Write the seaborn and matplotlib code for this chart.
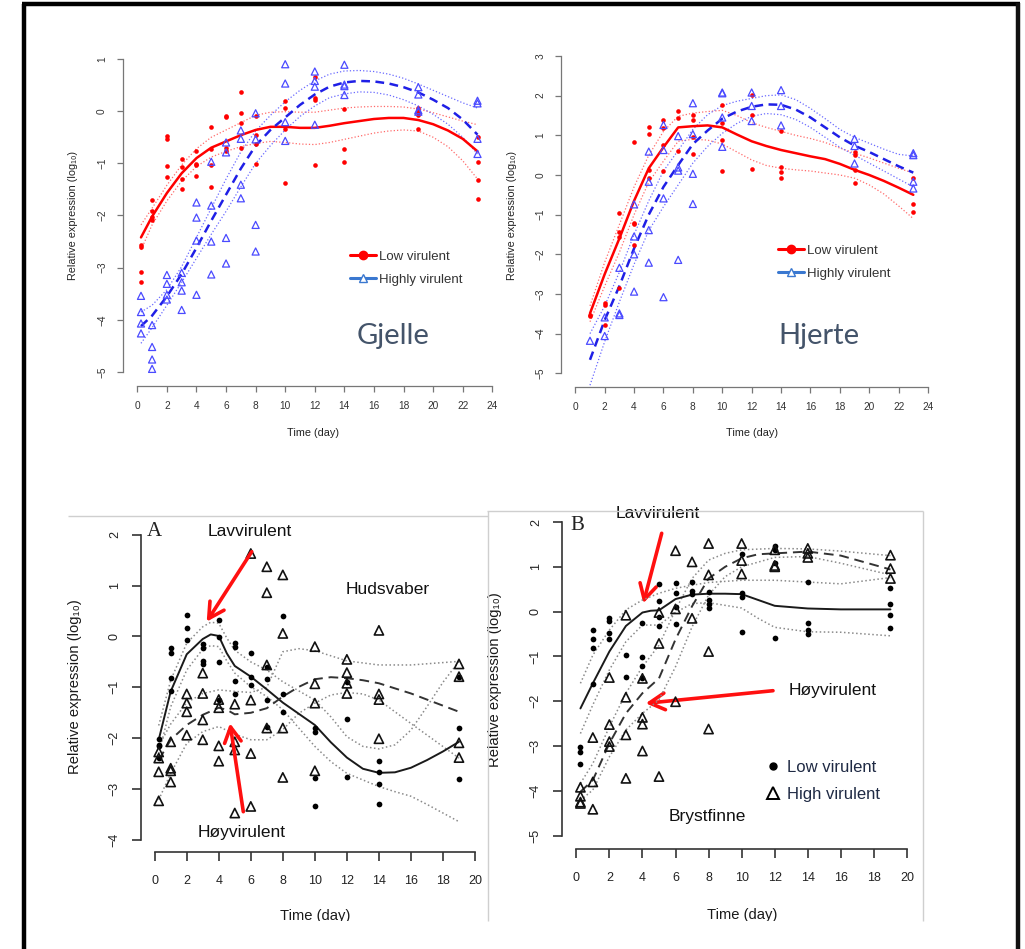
import matplotlib
matplotlib.use('Agg')
import matplotlib.pyplot as plt
from matplotlib.lines import Line2D
from matplotlib.patches import Rectangle
import pandas as pd
import seaborn as sns

W, H = 1025, 949

# ================= DATA =================
# ---- Gjelle (top left) ----
gj_days = [0.25, 1, 2, 3, 4, 5, 6, 7, 8, 10, 12, 14, 19, 23]
gj_low = [[-2.56, -2.61, -3.09, -3.28], [-1.70, -1.92, -2.02, -2.08], [-0.47, -0.53, -1.06, -1.27],
          [-0.92, -1.07, -1.30, -1.49], [-0.77, -1.02, -1.04, -1.25], [-0.30, -0.72, -1.03, -1.46],
          [-0.10, -0.11, -0.70, -0.76], [0.37, -0.04, -0.23, -0.71], [-0.10, -0.45, -0.63, -1.02],
          [0.20, 0.07, -0.34, -1.37], [0.65, 0.26, 0.21, -1.04], [0.04, -0.72, -0.97],
          [0.06, -0.01, -0.07, -0.35], [-0.49, -0.98, -1.31, -1.69]]
gj_high = [[-3.54, -3.85, -4.07, -4.26], [-4.10, -4.52, -4.76, -4.94], [-3.14, -3.31, -3.52, -3.61],
           [-3.10, -3.28, -3.44, -3.81], [-1.75, -2.04, -2.48, -3.52], [-0.97, -1.81, -2.50, -3.13],
           [-0.60, -0.79, -2.43, -2.92], [-0.37, -0.53, -1.41, -1.67], [-0.04, -0.54, -2.18, -2.69],
           [0.90, 0.53, -0.21, -0.57], [0.76, 0.58, 0.47, -0.26], [0.89, 0.51, 0.48, 0.31],
           [0.46, 0.32, 0.02, -0.01], [0.20, 0.15, -0.53, -0.82]]
gj_curve_x = [0.25, 1, 2, 3, 4, 5, 6, 7, 8, 9, 10, 11, 12, 13, 14, 15, 16, 17, 18, 19, 20, 21, 22, 23]
gj_low_fit = [-2.42, -2.02, -1.57, -1.19, -0.90, -0.70, -0.58, -0.46, -0.36, -0.30, -0.30, -0.32,
              -0.32, -0.28, -0.23, -0.19, -0.15, -0.13, -0.13, -0.17, -0.25, -0.37, -0.53, -0.77]
gj_low_hi = [-2.18, -1.86, -1.42, -1.03, -0.72, -0.50, -0.36, -0.22, -0.08, -0.02, -0.01, -0.02,
             -0.02, 0.02, 0.06, 0.08, 0.09, 0.09, 0.08, 0.04, -0.03, -0.11, -0.19, -0.26]
gj_low_lo = [-2.66, -2.18, -1.72, -1.34, -1.06, -0.88, -0.77, -0.68, -0.62, -0.58, -0.60, -0.63,
             -0.64, -0.60, -0.54, -0.48, -0.42, -0.38, -0.36, -0.38, -0.50, -0.68, -0.95, -1.30]
gj_high_fit = [-4.12, -3.92, -3.55, -3.12, -2.62, -2.10, -1.60, -1.10, -0.66, -0.36, -0.12, 0.12,
               0.32, 0.47, 0.55, 0.58, 0.57, 0.53, 0.46, 0.36, 0.22, 0.06, -0.16, -0.45]
gj_high_hi = [-3.85, -3.72, -3.42, -2.98, -2.42, -1.86, -1.30, -0.78, -0.38, -0.08, 0.18, 0.40,
              0.58, 0.71, 0.77, 0.78, 0.76, 0.71, 0.63, 0.52, 0.40, 0.28, 0.16, 0.06]
gj_high_lo = [-4.45, -4.15, -3.72, -3.28, -2.82, -2.36, -1.92, -1.45, -1.00, -0.66, -0.36, -0.10,
              0.10, 0.26, 0.33, 0.37, 0.36, 0.31, 0.22, 0.10, -0.06, -0.25, -0.50, -0.82]

# ---- Hjerte (top right) ----
hj_days = [1, 2, 3, 4, 5, 6, 7, 8, 10, 12, 14, 19, 23]
hj_low = [[-3.54, -3.56], [-3.22, -3.29, -3.78], [-0.97, -1.43, -1.57, -2.86], [0.82, -1.22, -1.24, -1.76],
          [1.20, 1.03, 0.13, -0.08], [1.39, 1.18, 0.76, 0.11], [1.61, 1.43, 0.61], [1.50, 1.39, 0.97, 0.53],
          [1.76, 1.30, 0.87, 0.10], [2.02, 1.50, 0.14], [1.12, 0.21, 0.07, -0.07], [0.59, 0.50, 0.13, -0.19],
          [-0.07, -0.74, -0.94]]
hj_high = [[-4.18], [-3.59, -4.06], [-2.34, -3.49, -3.53], [-0.74, -1.55, -2.00, -2.94],
           [0.59, -0.17, -1.39, -2.21], [1.26, 0.63, -0.59, -3.08], [0.98, 0.19, 0.11, -2.14],
           [1.81, 1.03, 0.03, -0.73], [2.08, 2.06, 1.45, 0.71], [2.08, 1.74, 1.36], [2.14, 1.74, 1.25],
           [0.91, 0.73, 0.29], [0.55, 0.50, -0.17, -0.34]]
hj_curve_x = [1, 2, 3, 4, 5, 6, 7, 8, 9, 10, 11, 12, 13, 14, 15, 16, 17, 18, 19, 20, 21, 22, 23]
hj_low_fit = [-3.49, -2.50, -1.60, -0.65, 0.17, 0.70, 1.20, 1.23, 1.25, 1.20, 1.02, 0.85, 0.73, 0.63,
              0.55, 0.47, 0.40, 0.28, 0.13, 0.00, -0.15, -0.32, -0.50]
hj_low_hi = [-3.30, -2.20, -1.25, -0.30, 0.50, 1.10, 1.48, 1.56, 1.60, 1.63, 1.50, 1.32, 1.20, 1.10,
             1.00, 0.92, 0.82, 0.68, 0.55, 0.43, 0.30, 0.17, 0.05]
hj_low_lo = [-3.70, -2.80, -1.95, -1.00, -0.18, 0.35, 0.85, 0.90, 0.88, 0.78, 0.58, 0.38, 0.24, 0.17,
             0.13, 0.10, 0.05, 0.00, -0.08, -0.25, -0.48, -0.78, -1.10]
hj_high_fit = [-4.66, -3.66, -2.80, -1.85, -1.00, -0.30, 0.25, 0.78, 1.12, 1.42, 1.60, 1.72, 1.78,
               1.77, 1.65, 1.45, 1.20, 0.95, 0.74, 0.58, 0.40, 0.22, 0.06]
hj_high_hi = [-4.00, -3.30, -2.45, -1.50, -0.65, 0.10, 0.62, 1.15, 1.52, 1.75, 1.86, 1.93, 2.00,
              2.02, 1.90, 1.68, 1.42, 1.15, 0.95, 0.80, 0.65, 0.52, 0.48]
hj_high_lo = [-5.30, -4.20, -3.20, -2.25, -1.40, -0.80, -0.25, 0.30, 0.72, 1.05, 1.30, 1.48, 1.55,
              1.52, 1.40, 1.20, 0.95, 0.70, 0.50, 0.30, 0.10, -0.10, -0.30]

# ---- A: Hudsvaber (bottom left) ----
a_days = [0.25, 1, 2, 3, 4, 5, 6, 7, 8, 10, 12, 14, 19]
a_low = [[-2.01, -2.13, -2.16, -2.39], [-0.23, -0.32, -0.82, -1.08], [0.42, 0.16, -0.07],
         [-0.15, -0.23, -0.48, -0.54], [0.32, -0.02, -0.51, -1.24], [-0.12, -0.21, -0.87, -1.13],
         [-0.33, -0.79, -0.95], [-0.60, -0.84, -1.24, -1.77], [0.40, -1.13, -1.48],
         [-1.80, -1.87, -2.79, -3.34], [-0.89, -1.63, -2.76], [-2.45, -2.66, -2.89, -3.29],
         [-0.79, -1.79, -2.80]]
a_high = [[-2.27, -2.39, -2.66, -3.23], [-2.07, -2.59, -2.64, -2.86], [-1.13, -1.31, -1.48, -1.94],
          [-0.72, -1.12, -1.64, -2.03], [-1.24, -1.40, -2.15, -2.45], [-1.33, -2.07, -2.23, -3.47],
          [1.63, -1.25, -2.30, -3.34], [1.37, 0.86, -0.56, -1.80], [1.21, 0.06, -1.80, -2.77],
          [-0.20, -0.93, -1.31, -2.64], [-0.45, -0.71, -0.92, -1.12], [0.12, -1.13, -1.24, -2.01],
          [-0.54, -0.79, -2.09, -2.38]]
a_low_x = [0.25, 1, 2, 3, 3.5, 4, 4.5, 5, 6, 7, 8, 9, 10, 11, 12, 13, 14, 15, 16, 17, 18, 19]
a_low_fit = [-2.03, -1.08, -0.35, -0.05, 0.04, 0.01, -0.33, -0.58, -0.79, -1.04, -1.30, -1.52, -1.74,
             -2.08, -2.38, -2.60, -2.68, -2.67, -2.58, -2.43, -2.26, -2.07]
a_low_hi = [-1.75, -0.86, -0.13, 0.19, 0.28, 0.26, -0.03, -0.27, -0.50, -0.66, -0.89, -1.07, -1.25,
            -1.58, -1.97, -2.16, -2.21, -2.13, -1.84, -1.38, -0.90, -0.49]
a_low_lo = [-2.30, -1.38, -0.66, -0.25, -0.18, -0.20, -0.48, -0.72, -0.99, -1.18, -1.44, -1.80, -2.16,
            -2.46, -2.69, -2.82, -2.95, -3.05, -3.14, -3.30, -3.47, -3.64]
a_high_x = [0.25, 1, 2, 3, 4, 4.5, 5, 6, 7, 8, 9, 10, 11, 12, 13, 14, 16, 19]
a_high_fit = [-2.43, -2.03, -1.74, -1.54, -1.40, -1.44, -1.53, -1.50, -1.41, -1.18, -0.99, -0.84,
              -0.80, -0.82, -0.86, -0.92, -1.12, -1.48]
a_high_hi_x = [0.25, 1, 2, 3, 4, 5, 6, 7, 7.5, 8, 9, 10, 12, 14, 16, 19]
a_high_hi = [-2.15, -1.72, -1.30, -1.12, -1.05, -1.08, -1.10, -1.00, -0.65, -0.30, -0.24, -0.28,
             -0.48, -0.56, -0.56, -0.49]
a_high_lo_x = [0.25, 1, 2, 3, 4, 5, 6, 7, 8, 9, 10, 11, 12, 13, 14, 16, 19]
a_high_lo = [-3.21, -2.69, -2.10, -1.87, -1.77, -1.92, -2.03, -2.03, -1.83, -1.51, -1.31, -1.15,
             -1.10, -1.13, -1.25, -1.71, -2.39]

# ---- B: Brystfinne (bottom right) ----
b_days = [0.25, 1, 2, 3, 4, 5, 6, 7, 8, 10, 12, 14, 19]
b_low = [[-3.01, -3.13, -3.39], [-0.41, -0.62, -0.81, -1.62], [-0.15, -0.22, -0.47, -0.62],
         [-0.97, -1.45], [-0.25, -1.01, -1.21, -1.49], [0.61, 0.24, -0.13, -0.32],
         [0.63, 0.41, 0.10, -0.28], [0.67, 0.47, 0.39], [0.43, 0.27, 0.18, 0.07],
         [1.29, 0.41, 0.32, -0.45], [1.47, 1.38, 1.08, -0.58], [0.65, -0.26, -0.40, -0.50],
         [0.53, 0.17, -0.08, -0.36]]
b_high = [[-3.92, -4.12, -4.25, -4.28], [-2.81, -3.80, -4.41], [-1.47, -2.52, -2.90, -3.01],
          [-0.08, -1.91, -2.75, -3.72], [-1.49, -2.36, -2.51, -3.11], [-0.02, -0.71, -3.68],
          [1.36, 0.06, -2.01], [1.11, -0.15], [1.52, 0.82, -0.89, -2.62], [1.52, 1.14, 0.84],
          [1.38, 1.03, 1.00], [1.41, 1.30, 1.21], [1.26, 0.96, 0.74]]
b_low_x = [0.25, 1, 2, 3, 4, 4.5, 5, 6, 7, 8, 9, 10, 11, 12, 14, 16, 19]
b_low_fit = [-2.16, -1.60, -0.89, -0.32, -0.02, 0.02, 0.03, 0.28, 0.38, 0.40, 0.40, 0.39, 0.26,
             0.13, 0.07, 0.05, 0.05]
b_low_hi_x = [0.25, 1, 2, 3, 4, 5, 6, 7, 8, 10, 12, 14, 16, 19]
b_low_hi = [-1.60, -0.97, -0.41, 0.04, 0.26, 0.41, 0.52, 0.59, 0.65, 0.70, 0.70, 0.66, 0.62, 0.76]
b_low_lo_x = [0.25, 1, 2, 3, 4, 5, 6, 7, 8, 10, 11, 12, 14, 16, 19]
b_low_lo = [-2.72, -2.08, -1.30, -0.67, -0.30, -0.30, -0.02, 0.18, 0.20, 0.08, -0.15, -0.35, -0.45,
            -0.46, -0.54]
b_high_x = [0.25, 1, 2, 3, 4, 5, 6, 7, 8, 9, 10, 11, 12, 14, 16, 19]
b_high_fit = [-4.02, -3.76, -2.94, -2.27, -1.82, -1.49, -0.62, 0.12, 0.74, 1.00, 1.19, 1.28, 1.30,
              1.34, 1.25, 0.94]
b_high_hi_x = [0.25, 1, 2, 3, 4, 5, 6, 7, 8, 9, 10, 12, 14, 16, 19]
b_high_hi = [-3.83, -3.39, -2.57, -1.82, -1.23, -0.75, 0.04, 0.74, 1.15, 1.30, 1.38, 1.41, 1.40,
             1.35, 1.25]
b_high_lo_x = [0.25, 1, 2, 3, 4, 5, 6, 7, 8, 9, 10, 12, 14, 16, 19]
b_high_lo = [-4.21, -3.98, -3.24, -2.64, -2.27, -1.97, -1.23, -0.34, 0.37, 0.78, 1.00, 1.21, 1.23,
             1.08, 0.82]

# tick values
top_xticks = list(range(0, 25, 2))
bot_xticks = list(range(0, 21, 2))
gj_yticks = [-5, -4, -3, -2, -1, 0, 1]
hj_yticks = [-5, -4, -3, -2, -1, 0, 1, 2, 3]
a_yticks = [-4, -3, -2, -1, 0, 1, 2]
b_yticks = [-5, -4, -3, -2, -1, 0, 1, 2]

# ================= STYLE =================
sns.set_style('ticks')
plt.rcParams['font.family'] = ['Liberation Sans', 'DejaVu Sans']
SANS = ['Liberation Sans', 'DejaVu Sans']
TITLEFONT = ['Lato', 'Liberation Sans', 'DejaVu Sans']

fig = plt.figure(figsize=(W / 100, H / 100), dpi=100)
fig.patch.set_facecolor('white')


def long(days, groups):
    xs, ys = [], []
    for d, g in zip(days, groups):
        xs += [d] * len(g)
        ys += g
    return pd.DataFrame({'day': xs, 'expr': ys})


def make_ax(left, bottom, right, top, xcal, ycal):
    ax = fig.add_axes([left / W, 1 - bottom / H, (right - left) / W, (bottom - top) / H])
    x0, px0, x1, px1 = xcal
    sx = (px1 - px0) / (x1 - x0)
    ax.set_xlim(x0 + (left - px0) / sx, x0 + (right - px0) / sx)
    y0, py0, y1, py1 = ycal
    sy = (py1 - py0) / (y1 - y0)
    ax.set_ylim(y0 + (bottom - py0) / sy, y0 + (top - py0) / sy)
    ax.set_facecolor('none')
    return ax


def style_axes(ax, xticks, yticks, spine_col, lab_col, labsize, ticklen, padx, pady, lw):
    sns.despine(ax=ax)
    ax.set_xticks(xticks)
    ax.set_yticks(yticks)
    for s in ('left', 'bottom'):
        ax.spines[s].set_color(spine_col)
        ax.spines[s].set_linewidth(lw)
    ax.spines['bottom'].set_bounds(xticks[0], xticks[-1])
    ax.spines['left'].set_bounds(yticks[0], yticks[-1])
    ax.tick_params(axis='both', length=ticklen, width=lw, color=spine_col,
                   labelcolor=lab_col, labelsize=labsize)
    ax.tick_params(axis='x', pad=padx)
    ax.tick_params(axis='y', pad=pady, labelrotation=90)
    for lab in ax.get_yticklabels():
        lab.set_verticalalignment('center')


def set_labels(ax, xl, yl, xpos, ypos, size, color):
    ax.set_xlabel(xl, fontsize=size, color=color)
    ax.set_ylabel(yl, fontsize=size, color=color)
    ax.xaxis.set_label_coords(xpos[0] / W, 1 - xpos[1] / H, transform=fig.transFigure)
    ax.yaxis.set_label_coords(ypos[0] / W, 1 - ypos[1] / H, transform=fig.transFigure)
    ax.xaxis.label.set_verticalalignment('center')
    ax.yaxis.label.set_verticalalignment('center')


def curve(ax, x, y, color, lw, ls):
    sns.lineplot(x=x, y=y, ax=ax, color=color, lw=lw, linestyle=ls,
                 estimator=None, sort=False, legend=False)


YLAB = 'Relative expression (log\u2081\u2080)'
RED, RED_CI = '#ff0000', '#ff6a6a'
BLUE, BLUE_PT, BLUE_CI = '#1f1fe6', '#4a4aff', '#6a6aff'

# ================= TOP PANELS =================
top_specs = [
    dict(l=122.7, b=385.7, r=500, t=48, xcal=(0, 137.3, 24, 492.3), ycal=(1, 59, -5, 372),
         days=gj_days, low=gj_low, high=gj_high, cx=gj_curve_x,
         lf=gj_low_fit, lh=gj_low_hi, ll=gj_low_lo, hf=gj_high_fit, hh=gj_high_hi, hl=gj_high_lo,
         yt=gj_yticks, ylabpos=(73, 216), xlabpos=(313, 433), name='Gjelle', namepos=(393, 336),
         legpos=(350, 268)),
    dict(l=561, b=386.7, r=935, t=48, xcal=(0, 575.3, 24, 928), ycal=(3, 56, -5, 373.3),
         days=hj_days, low=hj_low, high=hj_high, cx=hj_curve_x,
         lf=hj_low_fit, lh=hj_low_hi, ll=hj_low_lo, hf=hj_high_fit, hh=hj_high_hi, hl=hj_high_lo,
         yt=hj_yticks, ylabpos=(512, 216), xlabpos=(752, 433), name='Hjerte', namepos=(819, 336),
         legpos=(778, 262)),
]

for sp in top_specs:
    ax = make_ax(sp['l'], sp['b'], sp['r'], sp['t'], sp['xcal'], sp['ycal'])
    curve(ax, sp['cx'], sp['lh'], RED_CI, 0.9, ':')
    curve(ax, sp['cx'], sp['ll'], RED_CI, 0.9, ':')
    curve(ax, sp['cx'], sp['hh'], BLUE_CI, 0.9, ':')
    curve(ax, sp['cx'], sp['hl'], BLUE_CI, 0.9, ':')
    curve(ax, sp['cx'], sp['lf'], RED, 1.8, '-')
    curve(ax, sp['cx'], sp['hf'], BLUE, 1.8, (0, (3.5, 2.2)))
    sns.scatterplot(data=long(sp['days'], sp['low']), x='day', y='expr', ax=ax,
                    color=RED, s=11, linewidth=0, legend=False, zorder=3)
    sns.scatterplot(data=long(sp['days'], sp['high']), x='day', y='expr', ax=ax, marker='^',
                    facecolor='none', edgecolor=BLUE_PT, s=26, linewidth=0.9, legend=False, zorder=3)
    style_axes(ax, top_xticks, sp['yt'], '#777777', '#333333', 7.3, 4.3, 7, 7, 0.9)
    set_labels(ax, 'Time (day)', YLAB, sp['xlabpos'], sp['ylabpos'], 7.8, '#222222')
    fig.text(sp['namepos'][0] / W, 1 - sp['namepos'][1] / H, sp['name'], fontsize=21,
             color='#44546A', ha='center', va='center', family=TITLEFONT, fontweight='normal')
    h1 = Line2D([], [], color=RED, lw=2.2, marker='o', ms=6)
    h2 = Line2D([], [], color='#3a78d0', lw=2.2, marker='^', ms=6, mfc='white', mec='#3a78d0', mew=1)
    ax.legend([h1, h2], ['Low virulent', 'Highly virulent'], loc='center left',
              bbox_to_anchor=(sp['legpos'][0] / W, 1 - sp['legpos'][1] / H),
              bbox_transform=fig.transFigure, frameon=False, handlelength=2.0,
              handletextpad=0.2, labelspacing=0.8, borderpad=0, borderaxespad=0,
              fontsize=9.5, labelcolor='#333333')

# ================= BOTTOM PANELS =================
K_LINE, K_DASH, K_DOT = '#1a1a1a', '#333333', '#8a8a8a'

bot_specs = [
    dict(l=141, b=852.3, r=482, t=525, xcal=(0, 154.7, 20, 475), ycal=(2, 534.7, -4, 840),
         days=a_days, low=a_low, high=a_high,
         lines=[(a_low_x, a_low_hi, K_DOT, 1.1, ':'), (a_low_x, a_low_lo, K_DOT, 1.1, ':'),
                (a_high_hi_x, a_high_hi, K_DOT, 1.1, ':'), (a_high_lo_x, a_high_lo, K_DOT, 1.1, ':'),
                (a_low_x, a_low_fit, K_LINE, 1.4, '-'), (a_high_x, a_high_fit, K_DASH, 1.4, (0, (5, 3)))],
         yt=a_yticks, ylabpos=(75, 687), xlabpos=(315, 916)),
    dict(l=562, b=848.7, r=915, t=512, xcal=(0, 576.3, 20, 907), ycal=(2, 522, -5, 835.7),
         days=b_days, low=b_low, high=b_high,
         lines=[(b_low_hi_x, b_low_hi, K_DOT, 1.1, ':'), (b_low_lo_x, b_low_lo, K_DOT, 1.1, ':'),
                (b_high_hi_x, b_high_hi, K_DOT, 1.1, ':'), (b_high_lo_x, b_high_lo, K_DOT, 1.1, ':'),
                (b_low_x, b_low_fit, K_LINE, 1.4, '-'), (b_high_x, b_high_fit, K_DASH, 1.4, (0, (5, 3)))],
         yt=b_yticks, ylabpos=(495, 680), xlabpos=(742, 915)),
]

bot_axes = []
for sp in bot_specs:
    ax = make_ax(sp['l'], sp['b'], sp['r'], sp['t'], sp['xcal'], sp['ycal'])
    for (x, y, c, lw, ls) in sp['lines']:
        curve(ax, x, y, c, lw, ls)
    sns.scatterplot(data=long(sp['days'], sp['low']), x='day', y='expr', ax=ax,
                    color='black', s=17, linewidth=0, legend=False, zorder=3)
    sns.scatterplot(data=long(sp['days'], sp['high']), x='day', y='expr', ax=ax, marker='^',
                    facecolor='none', edgecolor='#111111', s=44, linewidth=1.2, legend=False, zorder=3)
    style_axes(ax, bot_xticks, sp['yt'], '#333333', '#222222', 9, 6.5, 10, 8, 1.2)
    set_labels(ax, 'Time (day)', YLAB, sp['xlabpos'], sp['ylabpos'], 10.6, '#1a1a1a')
    bot_axes.append(ax)

# legend panel B
hb1 = Line2D([], [], ls='none', marker='o', color='black', ms=5)
hb2 = Line2D([], [], ls='none', marker='^', mfc='none', mec='black', ms=8, mew=1.4)
bot_axes[1].legend([hb1, hb2], ['Low virulent', 'High virulent'], loc='center left',
                   bbox_to_anchor=(765 / W, 1 - 781 / H), bbox_transform=fig.transFigure,
                   frameon=False, handlelength=1.0, handletextpad=0.3, labelspacing=0.75,
                   borderpad=0, borderaxespad=0, fontsize=12, labelcolor='#1f2a44')

# annotation texts
def ftext(px, py, s, size, family=SANS, **kw):
    fig.text(px / W, 1 - py / H, s, fontsize=size, ha='center', va='center', family=family, **kw)

ftext(154, 531, 'A', 15, family=['Liberation Serif', 'DejaVu Serif'], color='#222222')
ftext(250, 532, 'Lavvirulent', 12.5, color='#111111')
ftext(388, 590, 'Hudsvaber', 12.5, color='#111111')
ftext(242, 833, 'Høyvirulent', 12.5, color='#111111')
ftext(577, 525, 'B', 15, family=['Liberation Serif', 'DejaVu Serif'], color='#222222')
ftext(658, 513, 'Lavvirulent', 12.5, color='#111111')
ftext(833, 690, 'Høyvirulent', 12.5, color='#111111')
ftext(707, 817, 'Brystfinne', 12.5, color='#111111')

arrows = [((251.7, 551.7), (206.7, 621.7)), ((243.3, 811.7), (230, 723.3)),
          ((661.7, 533.3), (643.3, 603.3)), ((773, 690.7), (645.7, 703.3))]
for (tail, tip) in arrows:
    bot_axes[0].annotate('', xy=(tip[0], H - tip[1]), xytext=(tail[0], H - tail[1]),
                         xycoords='figure pixels', textcoords='figure pixels',
                         arrowprops=dict(arrowstyle='->,head_length=0.55,head_width=0.3',
                                         color='#ff1010', lw=2.6, mutation_scale=20,
                                         shrinkA=0, shrinkB=0),
                         annotation_clip=False)

# crop at the bottom like the reference, then frames
fig.add_artist(Rectangle((27 / W, 0), (1015 - 27) / W, (H - 921) / H, transform=fig.transFigure,
                         facecolor='white', edgecolor='none', zorder=50))

def fline(x0, y0, x1, y1, color, lw, z=60):
    fig.add_artist(Line2D([x0 / W, x1 / W], [1 - y0 / H, 1 - y1 / H], transform=fig.transFigure,
                          color=color, lw=lw, zorder=z, solid_capstyle='butt'))

fline(68, 516, 488, 516, '#cfcfcf', 1.0)
fline(487.5, 510.7, 487.5, 921, '#cfcfcf', 1.0)
fline(487, 510.7, 923, 510.7, '#cfcfcf', 1.0)
fline(923, 510.7, 923, 921, '#cfcfcf', 1.0)

fline(24, 4, 24, 949, '#000000', 3.2)
fline(22, 4, 1020, 4, '#000000', 3.2)
fline(1018, 2.5, 1018, 949, '#111111', 3.2)

fig.savefig('out.png', dpi=100, facecolor='white')
